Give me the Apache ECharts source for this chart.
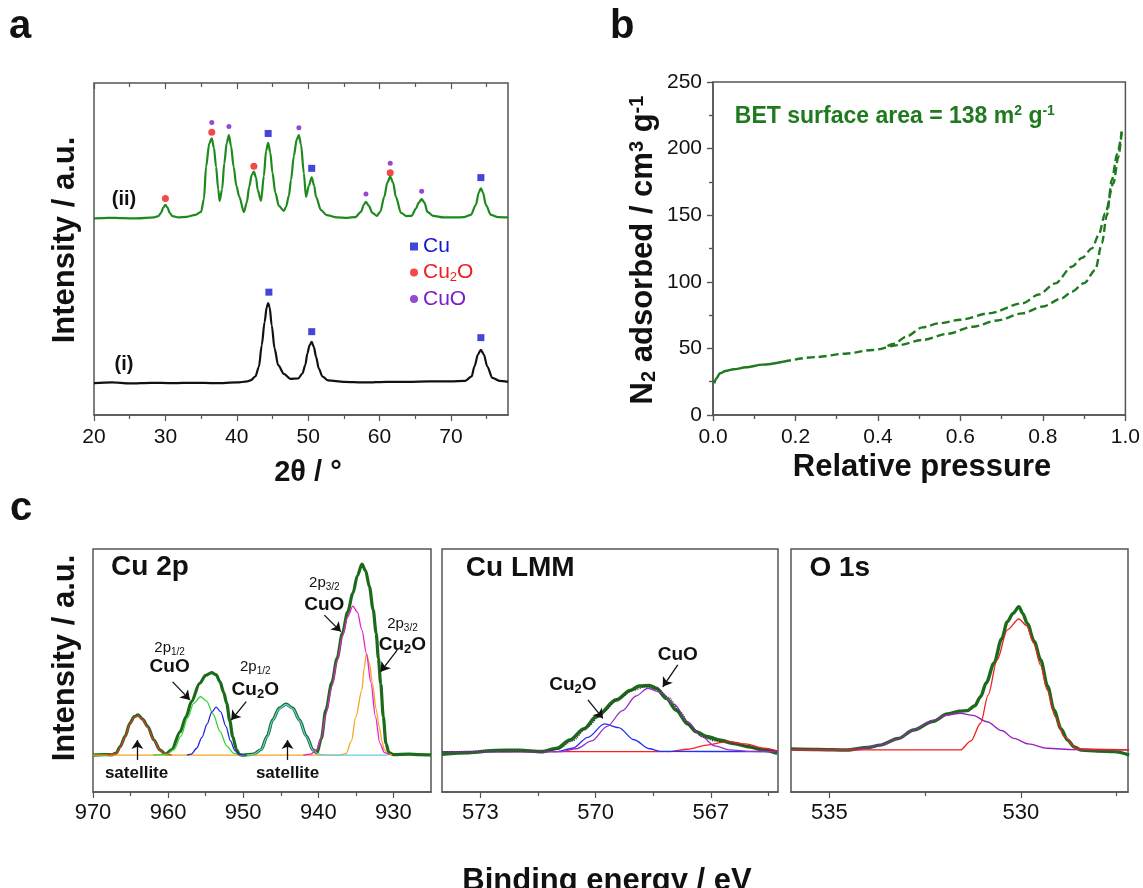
<!DOCTYPE html>
<html>
<head>
<meta charset="utf-8">
<script src="https://cdn.jsdelivr.net/npm/echarts@6/dist/echarts.min.js"></script>
<style>
  html, body { margin: 0; background: #fff; }
  #chart { width: 1143px; height: 888px; }
</style>
</head>
<body>
<div id="chart"></div>
<script>
const FONT = '"Liberation Sans", Arial, sans-serif';
const AXIS = '#555';
const INK = '#111';

// ---- panel a: XRD ----
const xrdTicks = [20, 30, 40, 50, 60, 70];
const xrdMinor = [25, 35, 45, 55, 65, 75];
const xrdI = [[20,9.6],[22.5,9.8],[25,9.5],[28,9.7],[31,9.6],[34,9.7],[37,9.6],[40,9.8],[41.5,10.1],[42.0,10.5],[42.6,11.6],[43.1,14.5],[43.5,21],[43.9,28],[44.2,32.5],[44.4,33.7],[44.6,32.5],[44.9,27],[45.3,20],[45.8,15],[46.6,12.4],[47.5,10.9],[48.6,11],[49.2,12.5],[49.6,15],[49.9,18.6],[50.2,21],[50.5,22],[50.8,20.5],[51.1,17.6],[51.5,14],[52.0,11.6],[52.8,10.4],[55,10],[58,9.8],[61,10],[64,10],[67,10.1],[70,10.1],[72.0,10.3],[72.9,11.6],[73.3,14.6],[73.8,18.3],[74.2,19.6],[74.6,18.3],[75.1,14.6],[75.8,11.2],[76.8,10.3],[78,10]];
const xrdII = [[20,59.2],[22,59.4],[24,59.3],[26,59.2],[28.4,59.5],[29.0,59.9],[29.4,60.9],[29.7,62.5],[30.0,63.3],[30.3,62.5],[30.6,60.9],[31.0,59.9],[31.8,59.5],[33,59.7],[34.2,60.3],[35.0,61.2],[35.4,65],[35.7,74.8],[36.15,81.8],[36.5,83.3],[36.8,80.5],[37.1,74.8],[37.4,68],[37.6,64.5],[37.95,68],[38.25,75.8],[38.6,82],[38.9,84.3],[39.2,81],[39.56,74.8],[39.95,69],[40.35,65.8],[41.0,61.1],[41.4,64],[41.75,68.8],[42.1,72.3],[42.4,73.3],[42.7,71.5],[42.93,67.8],[43.4,64.5],[43.8,72],[44.1,79.5],[44.4,82],[44.7,79],[45.0,73],[45.4,67],[45.9,63],[46.6,61.5],[46.9,62.7],[47.3,66],[47.6,70.8],[48.0,78],[48.4,83],[48.7,84.3],[49.0,81.5],[49.4,72.8],[49.7,65.7],[50.1,69],[50.5,71.6],[50.85,69],[51.1,65.7],[51.8,61.7],[52.6,60.2],[54,59.5],[55.5,59.4],[56.6,59.6],[57.4,61.2],[57.8,63.3],[58.1,64.2],[58.5,63],[59.0,60.9],[59.6,60],[60.1,61.2],[60.66,65.7],[61.1,70],[61.5,71.8],[61.9,70],[62.3,65.7],[63.0,60.9],[63.8,59.9],[64.5,60],[65.1,62.2],[65.5,64],[65.9,65],[66.3,64],[66.7,61.2],[67.5,60],[69,59.5],[70.5,59.5],[71.8,59.6],[72.8,60.3],[73.5,63.3],[73.9,67],[74.2,68.3],[74.5,67],[74.9,63.3],[75.6,60.3],[76.6,59.6],[78,59.5]];
const markCu = [[44.4,84.8],[50.5,74.3],[74.2,71.5],[44.5,37],[50.5,25.1],[74.2,23.3]];
const markCu2O = [[30.0,65.2],[36.5,85.2],[42.4,74.9],[61.5,73]];
const markCuO = [[36.5,88.1],[38.9,86.9],[48.7,86.5],[58.1,66.6],[61.5,75.8],[65.9,67.4]];

// ---- panel b: N2 isotherm ----
const pTicks = [0, 0.2, 0.4, 0.6, 0.8, 1.0];
const pMinor = [0.1, 0.3, 0.5, 0.7, 0.9];
const nTicks = [0, 50, 100, 150, 200, 250];
const nMinor = [25, 75, 125, 175, 225];
const isoLow = [[0.003,23.8],[0.008,27.5],[0.017,31.3],[0.03,33],[0.05,34.3],[0.08,35.8],[0.12,37.8],[0.17,40]];
const isoAds = [[0.17,40],[0.25,43.5],[0.32,46],[0.387,48.8],[0.45,52.5],[0.508,56.3],[0.57,61],[0.629,66.3],[0.69,71],[0.75,76.3],[0.80,81.5],[0.846,87.6],[0.87,92.6],[0.9,99],[0.927,108.9],[0.943,128.9],[0.955,150],[0.967,176.4],[0.98,196],[0.991,212.7]];
const isoDes = [[0.991,212.7],[0.983,193.9],[0.971,174],[0.951,151.4],[0.935,135],[0.919,125.1],[0.895,118],[0.87,111.3],[0.83,98.8],[0.79,90.5],[0.75,83.8],[0.669,76.3],[0.6,71.5],[0.548,68.8],[0.508,65.8],[0.468,58.8],[0.44,53.5],[0.42,51.3]];

// ---- panel c: XPS ----
const cu2pTicks = [970, 960, 950, 940, 930];
const cu2pMinor = [965, 955, 945, 935];
const lmmTicks = [573, 570, 567];
const lmmMinor = [571.5, 568.5, 565.5];
const o1sTicks = [535, 530];
const o1sMinor = [532.5, 527.5];

const cu2pRaw = [[970,15.2],[968.5,15.4],[967.5,15.3],[966.9,16],[966.4,18.6],[965.7,23],[965.1,28.3],[964.5,31],[964.0,31.7],[963.4,30],[962.7,26.9],[961.9,21.5],[961.1,17.3],[960.3,15.6],[959.5,17.5],[958.4,24.8],[957.6,31],[956.9,37.2],[955.8,44.7],[955.0,48],[954.2,49.1],[953.6,48.2],[953.1,45.4],[952.6,41],[952.2,36.5],[951.8,29.5],[951.4,22.8],[950.9,17.5],[950.5,15.4],[950,15.2],[948.6,15.6],[947.6,17.5],[946.8,23],[946.1,29.6],[945.2,34.5],[944.3,36.2],[943.4,34.5],[942.5,29.6],[941.6,23],[940.7,17.3],[940.2,16],[939.6,22],[939.0,33.7],[938.2,45],[937.5,55],[936.8,65.3],[936.1,74],[935.4,81.8],[934.8,89],[934.2,93.8],[933.7,91],[933.2,84.5],[932.7,75],[932.3,65.3],[932.0,55],[931.7,44.7],[931.35,31],[931.0,20],[930.6,16.2],[930.0,15.4],[928,15.6],[926.5,15.4],[925,15.3]];
const cu2pSat1 = [[968,15.2],[966.9,15.8],[966.4,18.3],[965.7,22.8],[965.1,28],[964.5,30.8],[964.0,31.4],[963.4,29.8],[962.7,26.6],[961.9,21.3],[961.1,17.2],[960.3,15.5],[959.5,15.2]];
const cu2pCuO12 = [[962,15.2],[960.2,15.5],[959.2,17.5],[958.3,23],[957.4,30.5],[956.6,36.5],[955.7,39.2],[954.9,37.5],[954.0,32],[953.1,25],[952.2,19],[951.3,16],[950.5,15.3],[949,15.2]];
const cu2pCu2O12 = [[957.5,15.2],[956.9,15.6],[956.2,18],[955.5,22.5],[954.8,28],[954.2,32.8],[953.6,34.9],[953.0,33],[952.3,27],[951.7,21],[951.1,17],[950.5,15.4],[949.5,15.2]];
const cu2pSat2 = [[949.5,15.2],[948.6,15.5],[947.6,17.4],[946.8,22.8],[946.1,29.4],[945.2,34.3],[944.3,36],[943.4,34.3],[942.5,29.4],[941.6,22.8],[940.7,17.2],[940.0,15.6],[939,15.2],[930.8,15.2]];
const cu2pCuO32 = [[942,15.2],[941,15.6],[940.2,17.5],[939.6,22.5],[939.0,32],[938.2,43.5],[937.5,54],[936.8,64],[936.1,72],[935.4,76.5],[934.8,74],[934.2,66.7],[933.6,57],[933.0,45],[932.4,31],[931.8,20],[931.2,16.2],[930.5,15.2]];
const cu2pCu2O32 = [[970,15.2],[937.2,15.2],[936.3,15.8],[935.6,21],[935.0,31],[934.2,42],[933.9,51],[933.6,56.8],[933.2,53],[932.8,44.7],[932.3,34],[931.9,26.9],[931.5,20.5],[931.2,17.3],[930.7,15.6],[930.2,15.2]];

const lmmRaw = [[574,15.6],[573.3,16.2],[572.6,17.1],[572.0,17.2],[571.4,16.6],[571.0,18],[570.67,21.4],[570.3,26],[569.98,31],[569.46,37.9],[569.1,41.8],[568.86,43.6],[568.6,43.8],[568.42,42.7],[568.15,38.5],[567.9,33.7],[567.6,28],[567.38,24.8],[567.1,22.8],[566.78,21.4],[566.4,20],[566.0,18.6],[565.6,17.2],[565.27,15.9]];
const lmmEnvelope = [[574,16.6],[571.4,16.6],[571.0,17.5],[570.6,21],[570.2,27],[569.8,33],[569.4,38.5],[569.0,42],[568.7,43.3],[568.4,42.5],[568.1,39],[567.8,33],[567.5,26.5],[567.2,22.5],[566.9,21],[566.6,20.6],[566.2,19.3],[565.8,17.8],[565.25,16.8]];
const lmmCu2O = [[574,16.6],[571.0,16.6],[570.6,18],[570.2,22.5],[569.77,28],[569.4,26.5],[569.0,21.5],[568.6,17.8],[568.3,16.7],[565.25,16.6]];
const lmmCuO = [[574,16.6],[570.9,16.6],[570.5,17.8],[570.1,21],[569.7,27],[569.3,33.5],[568.95,39.5],[568.64,42.7],[568.3,41],[567.95,36],[567.6,29],[567.25,23],[566.9,19],[566.5,17.3],[566.0,16.7],[565.25,16.6]];
const lmmCu = [[574,16.6],[568.1,16.6],[567.6,17.6],[567.1,19.3],[566.6,20.7],[566.1,19.8],[565.6,18],[565.25,16.8]];

const o1sRaw = [[536,17.7],[535.3,17.5],[534.54,17.3],[534,18.3],[533.67,19.3],[533.2,22],[532.8,25.5],[532.3,29],[531.92,32.1],[531.6,33.3],[531.4,33.5],[531.2,35.5],[531.05,39.2],[530.9,45],[530.7,53],[530.5,63],[530.35,70.1],[530.2,73.5],[530.05,76.3],[529.95,73.5],[529.83,69.4],[529.65,62],[529.48,54.3],[529.3,43.5],[529.13,33.7],[528.95,26],[528.78,21.4],[528.6,18.5],[528.43,17.3],[528,16.9],[527.56,16.6],[527.17,15.2]];
const o1sLattice = [[536,17.3],[531.58,17.3],[531.3,21],[531.05,28.3],[530.85,40],[530.62,54.3],[530.35,66.7],[530.05,71.2],[529.85,68.5],[529.66,61.2],[529.48,52],[529.31,42],[529.1,31],[528.87,22.8],[528.52,17.7],[527.17,17.3]];
const o1sDefect = [[536,17.3],[534.54,17.3],[534.1,18],[533.67,19.3],[533.2,22],[532.8,25.5],[532.3,29.5],[531.9,31.8],[531.58,32.4],[531.25,31.5],[530.88,28.9],[530.5,25.3],[530.18,22.1],[529.8,19.8],[529.31,18],[528.6,17.4],[527.17,17.3]];

const GREEN = '#1f7a1f';
const RICH = {
  b: { fontSize: 19, fontWeight: 'bold', fontFamily: FONT, color: INK, lineHeight: 22 },
  bs: { fontSize: 13, fontWeight: 'bold', fontFamily: FONT, color: INK, lineHeight: 6, verticalAlign: 'bottom' },
  n: { fontSize: 15, fontFamily: FONT, color: INK, lineHeight: 18 },
  ns: { fontSize: 10, fontFamily: FONT, color: INK, lineHeight: 6, verticalAlign: 'bottom' },
  t: { fontSize: 23, fontWeight: 'bold', fontFamily: FONT, color: GREEN, lineHeight: 26 },
  u: { fontSize: 14, fontWeight: 'bold', fontFamily: FONT, color: GREEN, lineHeight: 10, verticalAlign: 'top' }
};

function note(coord, text, size, bold, align) {
  return {
    coord, symbol: 'circle', symbolSize: 0, itemStyle: { color: 'rgba(0,0,0,0)' },
    label: { show: true, position: 'inside', formatter: text, align: align || 'center', verticalAlign: 'middle',
      color: INK, fontSize: size, fontWeight: bold ? 'bold' : 'normal', fontFamily: FONT, rich: RICH }
  };
}
function arrow(from, to) {
  return [{ coord: from }, { coord: to }];
}

function labelAxis(grid, position, min, max, ticks, size, margin, inverse, fmt) {
  return {
    type: 'value', gridIndex: grid, position, min, max, inverse: !!inverse,
    axisLine: { show: true, lineStyle: { color: AXIS, width: 1.5 } },
    splitLine: { show: false },
    axisTick: { show: true, length: 6, customValues: ticks, lineStyle: { color: AXIS, width: 1.2 } },
    axisLabel: { show: true, customValues: ticks, fontSize: size, margin, color: INK, fontFamily: FONT, formatter: fmt }
  };
}
function tickAxis(grid, position, min, max, ticks, len, inside, inverse) {
  return {
    type: 'value', gridIndex: grid, position, min, max, inverse: !!inverse,
    axisLine: { show: false }, splitLine: { show: false }, axisLabel: { show: false },
    axisTick: { show: true, inside, length: len, customValues: ticks, lineStyle: { color: AXIS, width: 1.2 } }
  };
}
function hiddenAxis(grid, min, max) {
  return { type: 'value', gridIndex: grid, min, max, show: false, splitLine: { show: false } };
}
function line(data, xi, yi, color, width, extra) {
  return Object.assign({
    type: 'line', data, xAxisIndex: xi, yAxisIndex: yi, showSymbol: false, symbol: 'none',
    smooth: 0.3, smoothMonotone: 'x', silent: true,
    lineStyle: { color, width }, itemStyle: { color }
  }, extra || {});
}
function title(x, y, text, size, rotate, extra) {
  return Object.assign({
    type: 'text', x, y, rotation: rotate ? Math.PI / 2 : 0,
    style: { text, fontSize: size, fontWeight: 'bold', fontFamily: FONT, fill: INK, align: 'center', verticalAlign: 'middle' }
  }, extra || {});
}

const gridBox = { show: true, borderColor: AXIS, borderWidth: 1.5, containLabel: false };
const fmt1 = v => v.toFixed(1);
const dashed = { color: GREEN, width: 2.4, type: [8, 4] };

const option = {
  animation: false,
  backgroundColor: '#fff',
  grid: [
    Object.assign({ left: 94, top: 83, width: 414, height: 332 }, gridBox),
    Object.assign({ left: 713, top: 82, width: 414, height: 333 }, gridBox),
    Object.assign({ left: 93, top: 549, width: 338, height: 243 }, gridBox),
    Object.assign({ left: 442, top: 549, width: 336, height: 243 }, gridBox),
    Object.assign({ left: 791, top: 549, width: 337, height: 243 }, gridBox)
  ],
  xAxis: [
    labelAxis(0, 'bottom', 20, 78, xrdTicks, 21, 12),
    tickAxis(0, 'bottom', 20, 78, xrdMinor, 4, false),
    tickAxis(0, 'top', 20, 78, xrdTicks, 6, true),
    tickAxis(0, 'top', 20, 78, xrdMinor, 4, true),
    labelAxis(1, 'bottom', 0, 1, pTicks, 21, 12, false, fmt1),
    tickAxis(1, 'bottom', 0, 1, pMinor, 4, false),
    tickAxis(1, 'top', 0, 1, pTicks, 6, true),
    tickAxis(1, 'top', 0, 1, pMinor, 4, true),
    labelAxis(2, 'bottom', 925, 970, cu2pTicks, 22, 10, true),
    tickAxis(2, 'bottom', 925, 970, cu2pMinor, 4, false, true),
    labelAxis(3, 'bottom', 565.25, 574, lmmTicks, 22, 10, true),
    tickAxis(3, 'bottom', 565.25, 574, lmmMinor, 4, false, true),
    labelAxis(4, 'bottom', 527.2, 536, o1sTicks, 22, 10, true),
    tickAxis(4, 'bottom', 527.2, 536, o1sMinor, 4, false, true)
  ],
  yAxis: [
    hiddenAxis(0, 0, 100),
    labelAxis(1, 'left', 0, 250, nTicks, 21, 11),
    tickAxis(1, 'left', 0, 250, nMinor, 4, false),
    tickAxis(1, 'right', 0, 250, nTicks, 6, true),
    tickAxis(1, 'right', 0, 250, nMinor, 4, true),
    hiddenAxis(2, 0, 100),
    hiddenAxis(3, 0, 100),
    hiddenAxis(4, 0, 100)
  ],
  legend: {
    left: 405, top: 231, orient: 'vertical', itemGap: 5, itemWidth: 8, itemHeight: 8,
    selectedMode: false,
    data: [
      { name: 'Cu', icon: 'rect', textStyle: { color: '#1418d0' } },
      { name: 'Cu2O', icon: 'circle', textStyle: { color: '#f01c1c' } },
      { name: 'CuO', icon: 'circle', textStyle: { color: '#7a1cc8' } }
    ],
    formatter: n => n === 'Cu2O' ? '{a|Cu}{s|2}{a|O}' : n,
    textStyle: {
      fontSize: 21, fontFamily: FONT,
      rich: { a: { fontSize: 21, fontFamily: FONT, lineHeight: 22 }, s: { fontSize: 13, fontFamily: FONT, lineHeight: 6, verticalAlign: 'bottom' } }
    }
  },
  series: [
    // panel a
    line(xrdI, 0, 0, INK, 2.2, {
      markPoint: { silent: true, data: [note([24.2, 15.1], '(i)', 20, true)] }
    }),
    line(xrdII, 0, 0, '#1e8a1e', 2.2, {
      markPoint: { silent: true, data: [note([24.2, 64.8], '(ii)', 20, true)] }
    }),
    { type: 'scatter', name: 'Cu', data: markCu, xAxisIndex: 0, yAxisIndex: 0, symbol: 'rect', symbolSize: 7, itemStyle: { color: '#1418d0' }, silent: true },
    { type: 'scatter', name: 'Cu2O', data: markCu2O, xAxisIndex: 0, yAxisIndex: 0, symbol: 'circle', symbolSize: 7, itemStyle: { color: '#f01c1c' }, silent: true },
    { type: 'scatter', name: 'CuO', data: markCuO, xAxisIndex: 0, yAxisIndex: 0, symbol: 'circle', symbolSize: 5, itemStyle: { color: '#7a1cc8' }, silent: true },

    // panel b
    line(isoLow, 4, 1, GREEN, 2.4, {
      markPoint: { silent: true, data: [note([0.053, 223.7], '{t|BET surface area = 138 m}{u|2}{t| g}{u|-1}', 23, true, 'left')] }
    }),
    line(isoAds, 4, 1, GREEN, 2.4, { lineStyle: dashed }),
    line(isoDes, 4, 1, GREEN, 2.4, { lineStyle: dashed }),

    // panel c, Cu 2p
    line(cu2pRaw, 8, 5, '#1b6b1b', 3.2, {
      markPoint: { silent: true, data: [
        note([967.6, 92.6], 'Cu 2p', 28, true, 'left'),
        note([964.2, 7.8], 'satellite', 17, true),
        note([944.1, 7.8], 'satellite', 17, true),
        note([959.8, 59.3], '{n|2p}{ns|1/2}', 15),
        note([959.8, 51.4], 'CuO', 19, true),
        note([948.4, 51.4], '{n|2p}{ns|1/2}', 15),
        note([948.4, 42.0], '{b|Cu}{bs|2}{b|O}', 19, true),
        note([939.2, 86.0], '{n|2p}{ns|3/2}', 15),
        note([939.2, 77.0], 'CuO', 19, true),
        note([928.8, 69.1], '{n|2p}{ns|3/2}', 15),
        note([928.8, 60.5], '{b|Cu}{bs|2}{b|O}', 19, true)
      ] },
      markLine: { silent: true, symbol: ['none', 'arrow'], symbolSize: 9, label: { show: false },
        lineStyle: { color: INK, width: 1.3, type: 'solid' },
        data: [
          arrow([964.1, 13.2], [964.1, 21.4]),
          arrow([944.1, 13.2], [944.1, 21.4]),
          arrow([959.4, 45.3], [957.1, 37.9]),
          arrow([949.6, 37.2], [951.6, 29.6]),
          arrow([939.2, 72.8], [937.0, 66.0]),
          arrow([929.5, 58.4], [931.7, 49.5])
        ] }
    }),
    line(cu2pCu2O32, 8, 5, '#f5a623', 1.3),
    line(cu2pSat2, 8, 5, '#5fd0ea', 1.3),
    line(cu2pSat1, 8, 5, '#e8312a', 1.3),
    line(cu2pCuO12, 8, 5, '#3ed13e', 1.3),
    line(cu2pCu2O12, 8, 5, '#2020dd', 1.3),
    line(cu2pCuO32, 8, 5, '#e81ed0', 1.3),

    // panel c, Cu LMM
    line(lmmRaw, 10, 6, '#1b6b1b', 3.6, {
      markPoint: { silent: true, data: [
        note([573.38, 92], 'Cu LMM', 28, true, 'left'),
        note([570.59, 44.0], '{b|Cu}{bs|2}{b|O}', 19, true),
        note([567.86, 56.4], 'CuO', 19, true)
      ] },
      markLine: { silent: true, symbol: ['none', 'arrow'], symbolSize: 9, label: { show: false },
        lineStyle: { color: INK, width: 1.3, type: 'solid' },
        data: [arrow([570.2, 37.9], [569.81, 30.3]), arrow([567.86, 52.3], [568.25, 43.3])] }
    }),
    line(lmmCu, 10, 6, '#ff2020', 1.3),
    line(lmmCu2O, 10, 6, '#2233ee', 1.3),
    line(lmmCuO, 10, 6, '#9b2fc8', 1.3),
    line(lmmEnvelope, 10, 6, '#333', 1.2, { lineStyle: { color: '#333', width: 1.2, type: 'dotted' } }),

    // panel c, O 1s
    line(o1sRaw, 12, 7, '#1b6b1b', 3.4, {
      markPoint: { silent: true, data: [note([535.52, 92], 'O 1s', 28, true, 'left')] }
    }),
    line(o1sDefect, 12, 7, '#9b1fbf', 1.3),
    line(o1sLattice, 12, 7, '#f02020', 1.3)
  ],
  graphic: [
    { type: 'text', x: 9, y: 27, style: { text: 'a', fontSize: 40, fontWeight: 'bold', fontFamily: FONT, fill: INK, verticalAlign: 'middle' } },
    { type: 'text', x: 610, y: 27, style: { text: 'b', fontSize: 40, fontWeight: 'bold', fontFamily: FONT, fill: INK, verticalAlign: 'middle' } },
    { type: 'text', x: 10, y: 509, style: { text: 'c', fontSize: 40, fontWeight: 'bold', fontFamily: FONT, fill: INK, verticalAlign: 'middle' } },
    title(65, 240, 'Intensity / a.u.', 31, true),
    title(308, 473, '2θ / °', 29, false),
    title(643, 250, '', 31, true, { style: {
      text: '{t|N}{s|2}{t| adsorbed / cm}{u|3}{t| g}{u|-1}', align: 'center', verticalAlign: 'middle', fill: INK,
      rich: {
        t: { fontSize: 31, fontWeight: 'bold', fontFamily: FONT, fill: INK, lineHeight: 32 },
        s: { fontSize: 20, fontWeight: 'bold', fontFamily: FONT, fill: INK, lineHeight: 10, verticalAlign: 'bottom' },
        u: { fontSize: 20, fontWeight: 'bold', fontFamily: FONT, fill: INK, lineHeight: 12, verticalAlign: 'top' }
      } } }),
    title(922, 467, 'Relative pressure', 31, false),
    title(65, 658, 'Intensity / a.u.', 31, true),
    title(607, 881, 'Binding energy / eV', 31, false)
  ]
};

const chart = echarts.init(document.getElementById('chart'), null, { renderer: 'canvas' });
chart.setOption(option);
</script>
</body>
</html>
